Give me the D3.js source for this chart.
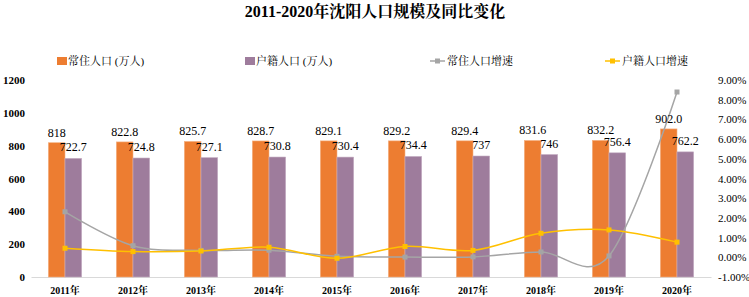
<!DOCTYPE html>
<html lang="zh">
<head>
  <meta charset="UTF-8">
  <title>2011-2020年沈阳人口规模及同比变化</title>
  <style>
    body { margin: 0; background: #fff; }
    svg { display: block; }
  </style>
</head>
<body>
  <div id="chart"></div>

  <script src="https://d3js.org/d3.v7.min.js"></script>
  <script>
    // data
    const years = ['2011年','2012年','2013年','2014年','2015年','2016年','2017年','2018年','2019年','2020年'];
    const changzhu = [818, 822.8, 825.7, 828.7, 829.1, 829.2, 829.4, 831.6, 832.2, 902.0];
    const huji = [722.7, 724.8, 727.1, 730.8, 730.4, 734.4, 737, 746, 756.4, 762.2];
    const changzhuLabels = ['818','822.8','825.7','828.7','829.1','829.2','829.4','831.6','832.2','902.0'];
    const hujiLabels = ['722.7','724.8','727.1','730.8','730.4','734.4','737','746','756.4','762.2'];
    const changzhuGrowth = [2.31, 0.59, 0.35, 0.36, 0.05, 0.01, 0.02, 0.27, 0.07, 8.39];
    const hujiGrowth = [0.46, 0.29, 0.32, 0.51, -0.05, 0.55, 0.35, 1.22, 1.39, 0.77];
    const leftTicks = [0, 200, 400, 600, 800, 1000, 1200];
    const rightTicks = [-1, 0, 1, 2, 3, 4, 5, 6, 7, 8, 9];

    const WIDTH = 749, HEIGHT = 297;
    const SERIF = '"Liberation Serif", "Times New Roman", "Noto Serif CJK SC", "Noto Sans CJK SC", serif';
    const ORANGE = '#ed7d31', PURPLE = '#9e7c9c', GRAY = '#a5a5a5', GOLD = '#ffc000';
    const plot = {left: 31, right: 711, top: 80, bottom: 277};

    const svg = d3.select('#chart').append('svg')
      .attr('width', WIDTH).attr('height', HEIGHT)
      .style('font-family', SERIF);

    const x = d3.scaleBand().domain(years).range([plot.left, plot.right]);
    const yL = d3.scaleLinear().domain([0, 1200]).range([plot.bottom, plot.top]);
    const yR = d3.scaleLinear().domain([-1, 9]).range([plot.bottom, plot.top]);
    const barW = x.bandwidth() * 0.245;
    const cx = (d) => x(d) + x.bandwidth() / 2;

    // title
    svg.append('text')
      .attr('x', 375).attr('y', 17)
      .attr('text-anchor', 'middle')
      .attr('font-size', '16px').attr('font-weight', 'bold')
      .text('2011-2020年沈阳人口规模及同比变化');

    // legend
    const legend = svg.append('g').attr('font-size', '11px');
    const legendItems = [
      {name: '常住人口 (万人)', color: ORANGE, type: 'bar', x: 57},
      {name: '户籍人口 (万人)', color: PURPLE, type: 'bar', x: 245},
      {name: '常住人口增速', color: GRAY, type: 'line', x: 430},
      {name: '户籍人口增速', color: GOLD, type: 'line', x: 605}
    ];
    legendItems.forEach((it) => {
      const g = legend.append('g').attr('transform', `translate(${it.x},61)`);
      if (it.type === 'bar') {
        g.append('rect').attr('x', 0).attr('y', -4).attr('width', 10).attr('height', 8).attr('fill', it.color);
        g.append('text').attr('x', 11).attr('y', 4).text(it.name);
      } else {
        g.append('line').attr('x1', 0).attr('x2', 15).attr('y1', 0).attr('y2', 0)
          .attr('stroke', it.color).attr('stroke-width', 1.5);
        g.append('rect').attr('x', 5).attr('y', -2.5).attr('width', 5).attr('height', 5).attr('fill', it.color);
        g.append('text').attr('x', 17).attr('y', 4).text(it.name);
      }
    });

    // axes
    const leftAxis = svg.append('g')
      .attr('transform', `translate(${plot.left},0)`)
      .call(d3.axisLeft(yL).tickValues(leftTicks).tickSize(0).tickPadding(6).tickFormat(d3.format('d')));
    leftAxis.select('.domain').remove();
    leftAxis.selectAll('text').attr('font-family', SERIF).attr('font-size', '11px')
      .attr('font-weight', 'bold').attr('fill', '#000');

    const rightAxis = svg.append('g')
      .attr('transform', `translate(${plot.right},0)`)
      .call(d3.axisRight(yR).tickValues(rightTicks).tickSize(0).tickPadding(7)
        .tickFormat((d) => d.toFixed(2) + '%'));
    rightAxis.select('.domain').remove();
    rightAxis.selectAll('text').attr('font-family', SERIF).attr('font-size', '11px').attr('fill', '#000');

    const bottomAxis = svg.append('g')
      .attr('transform', `translate(0,${plot.bottom})`)
      .call(d3.axisBottom(x).tickSize(0).tickPadding(10));
    bottomAxis.select('.domain').attr('stroke', '#d9d9d9');
    bottomAxis.selectAll('text').attr('font-family', SERIF).attr('font-size', '10px')
      .attr('font-weight', 'bold').attr('fill', '#000');

    // bars
    svg.append('g').selectAll('rect')
      .data(years).join('rect')
      .attr('x', (d) => cx(d) - barW)
      .attr('y', (d, i) => yL(changzhu[i]))
      .attr('width', barW)
      .attr('height', (d, i) => plot.bottom - yL(changzhu[i]))
      .attr('fill', ORANGE).attr('stroke', '#f4b183').attr('stroke-width', 0.6);

    svg.append('g').selectAll('rect')
      .data(years).join('rect')
      .attr('x', (d) => cx(d))
      .attr('y', (d, i) => yL(huji[i]))
      .attr('width', barW)
      .attr('height', (d, i) => plot.bottom - yL(huji[i]))
      .attr('fill', PURPLE).attr('stroke', '#c5aec3').attr('stroke-width', 0.6);

    // growth lines (smoothed like excel)
    const drawLine = (vals, color) => {
      const line = d3.line()
        .x((d, i) => cx(years[i]))
        .y((d) => yR(d))
        .curve(d3.curveCardinal.tension(0));
      svg.append('path').datum(vals)
        .attr('d', line).attr('fill', 'none')
        .attr('stroke', color).attr('stroke-width', 1.5);
      svg.append('g').selectAll('rect')
        .data(vals).join('rect')
        .attr('x', (d, i) => cx(years[i]) - 2.5)
        .attr('y', (d) => yR(d) - 2.5)
        .attr('width', 5).attr('height', 5)
        .attr('fill', color);
    };
    drawLine(changzhuGrowth, GRAY);
    drawLine(hujiGrowth, GOLD);

    // data labels
    svg.append('g').selectAll('text')
      .data(years).join('text')
      .attr('x', (d) => cx(d) - barW / 2)
      .attr('y', (d, i) => yL(changzhu[i]) - 6)
      .attr('text-anchor', 'middle').attr('font-size', '12px')
      .text((d, i) => changzhuLabels[i]);

    svg.append('g').selectAll('text')
      .data(years).join('text')
      .attr('x', (d) => cx(d) + barW / 2)
      .attr('y', (d, i) => yL(huji[i]) - 7)
      .attr('text-anchor', 'middle').attr('font-size', '12px')
      .text((d, i) => hujiLabels[i]);
  </script>
</body>
</html>
